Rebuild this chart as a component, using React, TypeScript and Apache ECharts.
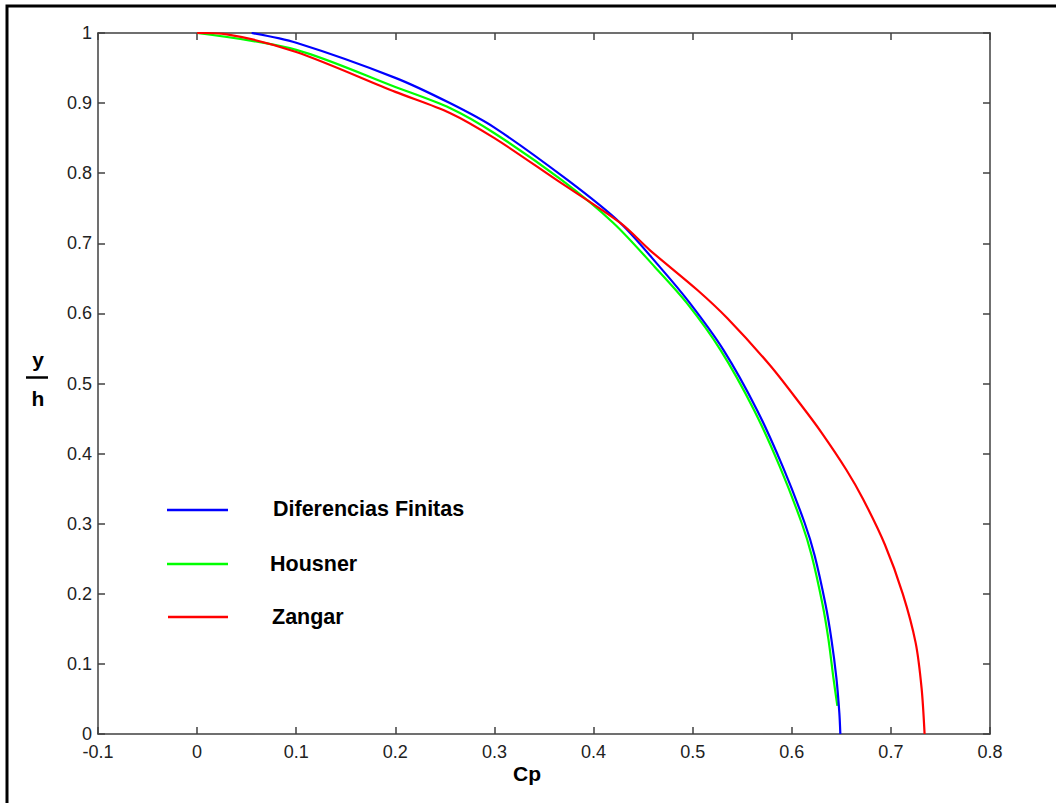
import React, { useEffect, useRef } from "react";
import * as echarts from "echarts";

// Tick labels
const xTicks = [-0.1, 0, 0.1, 0.2, 0.3, 0.4, 0.5, 0.6, 0.7, 0.8];
const yTicks = [0, 0.1, 0.2, 0.3, 0.4, 0.5, 0.6, 0.7, 0.8, 0.9, 1];

// Series names
const seriesNames = ["Diferencias Finitas", "Housner", "Zangar"];

// Diferencias Finitas (blue): [Cp, y/h]
const blueCp = [0.055, 0.1, 0.2, 0.255, 0.3, 0.374, 0.427, 0.467, 0.497, 0.531, 0.565, 0.591, 0.613, 0.623, 0.634, 0.64, 0.645, 0.648, 0.649];
const blueY = [1.0, 0.986, 0.936, 0.9, 0.865, 0.79, 0.729, 0.666, 0.615, 0.548, 0.462, 0.381, 0.301, 0.255, 0.185, 0.135, 0.08, 0.03, 0.0];

// Housner (green)
const greenCp = [0, 0.1, 0.2, 0.255, 0.3, 0.368, 0.42, 0.462, 0.494, 0.528, 0.562, 0.588, 0.61, 0.62, 0.631, 0.637, 0.642, 0.646];
const greenY = [1.0, 0.976, 0.923, 0.893, 0.857, 0.79, 0.729, 0.666, 0.615, 0.548, 0.462, 0.381, 0.301, 0.255, 0.185, 0.135, 0.08, 0.04];

// Zangar (red)
const redCp = [0, 0.03, 0.1, 0.2, 0.255, 0.3, 0.363, 0.427, 0.457, 0.505, 0.535, 0.578, 0.609, 0.63, 0.655, 0.672, 0.694, 0.712, 0.725, 0.731, 0.734];
const redY = [1.0, 0.998, 0.973, 0.916, 0.886, 0.85, 0.79, 0.729, 0.69, 0.633, 0.593, 0.526, 0.47, 0.43, 0.377, 0.335, 0.27, 0.2, 0.13, 0.065, 0.0];

const zip = (a: number[], b: number[]) => a.map((v, i) => [v, b[i]]);

const fmt = (v: number) => String(Math.round(v * 10) / 10);

const FONT = "Liberation Sans, Arial, sans-serif";

export default function App() {
  const ref = useRef<HTMLDivElement>(null);
  useEffect(() => {
    if (!ref.current) return;
    const chart = echarts.init(ref.current, null, { renderer: "svg" });
    const axisColor = "#404040";
    const labelFont = { fontFamily: FONT, fontSize: 18, color: "#222" };
    const common = {
      type: "value" as const,
      interval: 0.1,
      splitLine: { show: false },
      axisLine: { show: true, onZero: false, lineStyle: { color: axisColor, width: 1.5 } },
      axisTick: { show: true, inside: true, length: 7, lineStyle: { color: axisColor, width: 1.5 } },
    };
    const txt = (text: string, x: number, y: number, size: number, align = "left") => ({
      type: "text",
      x,
      y,
      style: { text, font: `bold ${size}px ${FONT}`, fill: "#000", textAlign: align, textVerticalAlign: "middle" },
    });
    chart.setOption({
      animation: false,
      backgroundColor: "#fff",
      grid: { left: 98, top: 33, right: 66, bottom: 69, containLabel: false },
      xAxis: [
        {
          ...common,
          min: xTicks[0],
          max: xTicks[xTicks.length - 1],
          position: "bottom",
          axisLabel: { ...labelFont, margin: 9, formatter: fmt },
        },
        {
          ...common,
          min: xTicks[0],
          max: xTicks[xTicks.length - 1],
          position: "top",
          axisLabel: { show: false },
        },
      ],
      yAxis: [
        {
          ...common,
          min: yTicks[0],
          max: yTicks[yTicks.length - 1],
          position: "left",
          axisLabel: { ...labelFont, margin: 6, formatter: fmt },
        },
        {
          ...common,
          min: yTicks[0],
          max: yTicks[yTicks.length - 1],
          position: "right",
          axisLabel: { show: false },
        },
      ],
      series: [
        {
          name: seriesNames[1],
          type: "line",
          data: zip(greenCp, greenY),
          showSymbol: false,
          smooth: 0.3,
          lineStyle: { color: "#00ff00", width: 2.2 },
        },
        {
          name: seriesNames[0],
          type: "line",
          data: zip(blueCp, blueY),
          showSymbol: false,
          smooth: 0.3,
          lineStyle: { color: "#0000ff", width: 2.2 },
        },
        {
          name: seriesNames[2],
          type: "line",
          data: zip(redCp, redY),
          showSymbol: false,
          smooth: 0.3,
          lineStyle: { color: "#ff0000", width: 2.2 },
        },
      ],
      graphic: [
        {
          type: "rect",
          shape: { x: 7, y: 6, width: 1200, height: 1000 },
          style: { fill: "none", stroke: "#000", lineWidth: 3 },
          silent: true,
        },
        // legend
        { type: "line", shape: { x1: 167, y1: 510, x2: 228, y2: 510 }, style: { stroke: "#0000ff", lineWidth: 2.5 } },
        { type: "line", shape: { x1: 167, y1: 564, x2: 228, y2: 564 }, style: { stroke: "#00ff00", lineWidth: 2.5 } },
        { type: "line", shape: { x1: 168, y1: 617, x2: 228, y2: 617 }, style: { stroke: "#ff0000", lineWidth: 2.5 } },
        txt(seriesNames[0], 273, 509, 21.5),
        txt(seriesNames[1], 270, 564, 21.5),
        txt(seriesNames[2], 272, 617, 21.5),
        // axis titles
        txt("Cp", 527, 773, 21, "center"),
        txt("y", 38, 359, 21, "center"),
        { type: "line", shape: { x1: 26, y1: 377.5, x2: 48, y2: 377.5 }, style: { stroke: "#000", lineWidth: 2.5 } },
        txt("h", 38, 398, 21, "center"),
      ],
    });
    return () => chart.dispose();
  }, []);
  return <div ref={ref} style={{ position: "fixed", left: 0, top: 0, width: 1056, height: 803 }} />;
}
